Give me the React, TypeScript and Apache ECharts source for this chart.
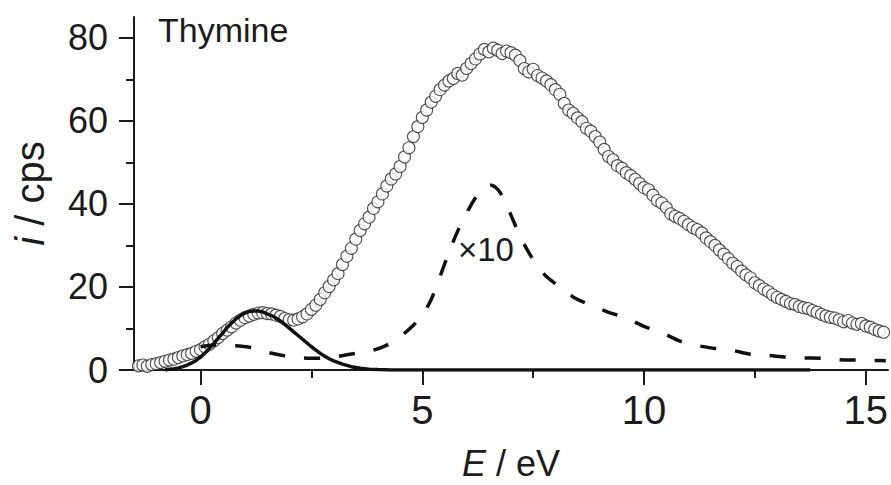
import React, { useEffect, useRef } from "react";
import * as echarts from "echarts";

// Measured count rate (cps) on a 0.1 eV energy grid starting at -1.4 eV
const E_START = -1.4;
const E_STEP = 0.1;
const countRate = [
  1.0, 1.2, 0.9, 1.3, 1.5, 1.8, 2.1, 2.4, 2.6, 3.0,
  3.4, 3.7, 4.0, 4.5, 4.9, 5.6, 6.2, 7.0, 7.8, 8.8,
  9.6, 10.4, 11.3, 12.0, 12.6, 13.0, 13.4, 13.7, 13.8, 13.6,
  13.5, 13.2, 12.9, 12.4, 12.1, 12.0, 12.3, 12.8, 13.5, 14.6,
  15.6, 17.0, 18.6, 20.1, 21.7, 23.2, 25.4, 27.4, 29.3, 31.5,
  33.6, 35.2, 36.8, 38.9, 40.5, 42.4, 44.3, 46.0, 47.2, 49.0,
  51.3, 53.5, 56.2, 58.6, 60.8, 62.6, 64.5, 65.9, 67.5, 68.6,
  69.6, 70.2, 71.4, 71.0, 72.6, 73.8, 74.9, 76.1, 77.2, 76.6,
  77.5, 77.0, 76.2, 76.8, 76.4, 75.8, 74.5, 72.6, 71.8, 72.4,
  70.9, 70.3, 69.6, 68.7, 67.5, 66.4, 64.2, 62.6, 61.8, 60.7,
  59.8, 58.2, 57.5, 56.2, 54.9, 53.1, 51.4, 50.6, 49.2, 48.6,
  47.5, 46.8, 45.9, 44.9, 43.9, 43.4, 42.1, 40.8, 40.2, 39.1,
  37.6, 37.0, 36.5, 35.8, 35.0, 34.3, 33.8, 33.0, 31.8, 30.9,
  30.0, 28.9, 27.9, 26.8, 25.7, 24.9, 23.8, 22.9, 22.2, 21.0,
  20.3, 19.5, 18.9, 18.1, 17.5, 17.0, 16.5, 16.0, 15.8, 15.3,
  15.0, 14.8, 14.3, 13.9, 13.4, 13.0, 12.7, 12.5, 12.1, 11.6,
  11.9, 11.3, 11.0, 11.2, 10.6, 10.3, 9.8, 9.4, 9.1,
];

// Low-energy resonance fit (solid curve)
const fitEnergy = [
  -0.8, -0.7, -0.6, -0.5, -0.4, -0.3, -0.2, -0.1, 0.0,
  0.1, 0.2, 0.3, 0.4, 0.5, 0.6, 0.7, 0.8, 0.9, 1.0,
  1.1, 1.2, 1.3, 1.4, 1.5, 1.6, 1.7, 1.8, 1.9, 2.0,
  2.1, 2.2, 2.3, 2.4, 2.5, 2.6, 2.7, 2.8, 2.9, 3.0,
  3.2, 3.4, 3.6, 3.8, 4.0, 4.3, 13.75,
];
const fitCounts = [
  0.0, 0.2, 0.3, 0.5, 0.8, 1.2, 1.7, 2.3, 3.1,
  4.1, 5.2, 6.4, 7.7, 8.9, 10.2, 11.3, 12.3, 13.1, 13.7,
  14.1, 14.2, 14.2, 14.0, 13.5, 13.1, 12.5, 11.8, 11.0, 10.1,
  9.2, 8.3, 7.4, 6.5, 5.6, 4.8, 4.0, 3.3, 2.7, 2.2,
  1.4, 0.8, 0.4, 0.2, 0.1, 0.0, 0.0,
];

// Secondary channel, multiplied by 10 (dashed curve)
const scaledEnergy = [
  0.0, 0.3, 0.7, 1.1, 1.5, 1.9, 2.3, 2.7, 3.1, 3.5,
  3.9, 4.2, 4.5, 4.8, 5.0, 5.2, 5.4, 5.6, 5.8, 6.0,
  6.2, 6.4, 6.55, 6.7, 6.85, 7.0, 7.2, 7.4, 7.6, 7.8,
  8.0, 8.4, 8.8, 9.2, 9.6, 10.0, 10.4, 10.8, 11.2, 11.6,
  12.0, 12.4, 12.8, 13.2, 13.6, 14.0, 14.4, 14.8, 15.2, 15.45,
];
const scaledCounts = [
  5.6, 6.0, 5.9, 5.5, 4.3, 3.4, 2.9, 2.8, 3.3, 4.0,
  4.8, 6.0, 8.0, 10.8, 13.2, 17.0, 22.5, 28.3, 33.5, 37.8,
  41.5, 44.0, 44.5, 43.5, 41.0, 37.3, 32.3, 28.3, 25.0, 22.5,
  20.8, 17.6, 15.6, 13.9, 12.5, 10.5, 9.0, 7.0, 5.9, 5.2,
  4.7, 3.8, 3.5, 3.1, 2.9, 2.8, 2.5, 2.4, 2.3, 2.2,
];

const xMajorTicks = [0, 5, 10, 15];
const xMinorTicks = [2.5, 7.5, 12.5];
const yMajorTicks = [0, 20, 40, 60, 80];
const yMinorTicks = [10, 30, 50, 70];

const INK = "#1c1c1c";
const FONT = "Liberation Sans, Arial, sans-serif";

export default function App() {
  const ref = useRef<HTMLDivElement>(null);

  useEffect(() => {
    if (!ref.current) return;
    const chart = echarts.init(ref.current, undefined, { renderer: "svg" });

    const scatterData = countRate.map((v, i) => [
      Math.round((E_START + i * E_STEP) * 100) / 100,
      v,
    ]);
    const fitData = fitEnergy.map((e, i) => [e, fitCounts[i]]);
    const scaledData = scaledEnergy.map((e, i) => [e, scaledCounts[i]]);

    const baseX = {
      type: "value" as const,
      min: -1.5,
      max: 15.5,
      position: "bottom" as const,
      splitLine: { show: false },
    };
    const baseY = {
      type: "value" as const,
      min: 0,
      max: 85,
      position: "left" as const,
      splitLine: { show: false },
    };

    chart.setOption({
      animation: false,
      backgroundColor: "#ffffff",
      grid: {
        left: 134,
        top: 17,
        right: 3,
        bottom: 115,
        containLabel: false,
        outerBoundsMode: "none",
      },
      xAxis: [
        {
          ...baseX,
          axisLine: { onZero: false, lineStyle: { color: INK, width: 2 } },
          axisTick: {
            customValues: xMajorTicks,
            length: 15,
            lineStyle: { color: INK, width: 2 },
          },
          axisLabel: {
            customValues: xMajorTicks,
            fontSize: 40,
            color: INK,
            fontFamily: FONT,
            margin: 20,
          },
          name: "{i|E} / eV",
          nameLocation: "middle",
          nameGap: 75,
          nameTextStyle: {
            fontSize: 36,
            color: INK,
            fontFamily: FONT,
            rich: {
              i: { fontSize: 36, fontStyle: "italic", color: INK, fontFamily: FONT },
            },
          },
        },
        {
          ...baseX,
          axisLine: { show: false, onZero: false },
          axisTick: {
            customValues: xMinorTicks,
            length: 8,
            lineStyle: { color: INK, width: 2 },
          },
          axisLabel: { show: false },
        },
      ],
      yAxis: [
        {
          ...baseY,
          axisLine: { show: true, onZero: false, lineStyle: { color: INK, width: 2 } },
          axisTick: {
            show: true,
            customValues: yMajorTicks,
            length: 15,
            lineStyle: { color: INK, width: 2 },
          },
          axisLabel: {
            customValues: yMajorTicks,
            fontSize: 36,
            color: INK,
            fontFamily: FONT,
            margin: 26,
          },
          name: "{i|i} / cps",
          nameLocation: "middle",
          nameRotate: 90,
          nameGap: 84,
          nameTextStyle: {
            fontSize: 40,
            color: INK,
            fontFamily: FONT,
            rich: {
              i: { fontSize: 40, fontStyle: "italic", color: INK, fontFamily: FONT },
            },
          },
        },
        {
          ...baseY,
          axisLine: { show: false, onZero: false },
          axisTick: {
            show: true,
            customValues: yMinorTicks,
            length: 8,
            lineStyle: { color: INK, width: 2 },
          },
          axisLabel: { show: false },
        },
      ],
      series: [
        {
          type: "scatter",
          data: scatterData,
          symbol: "circle",
          symbolSize: 12,
          itemStyle: { color: "#ffffff", borderColor: "#2a2a2a", borderWidth: 1.1 },
          z: 2,
        },
        {
          type: "line",
          data: fitData,
          showSymbol: false,
          lineStyle: { color: "#111111", width: 3.5 },
          z: 3,
        },
        {
          type: "line",
          data: scaledData,
          showSymbol: false,
          smooth: 0.3,
          lineStyle: { color: "#111111", width: 3.5, type: [16, 19], cap: "butt" },
          z: 3,
        },
      ],
      graphic: [
        {
          type: "text",
          left: 158,
          top: 13,
          style: { text: "Thymine", fontSize: 34, fill: INK, fontFamily: FONT },
        },
        {
          type: "text",
          left: 458,
          top: 233,
          style: { text: "\u00d710", fontSize: 33, fill: INK, fontFamily: FONT },
        },
      ],
    });

    return () => chart.dispose();
  }, []);

  return (
    <div
      ref={ref}
      style={{ position: "fixed", left: 0, top: 0, width: 891, height: 485, background: "#fff" }}
    />
  );
}
